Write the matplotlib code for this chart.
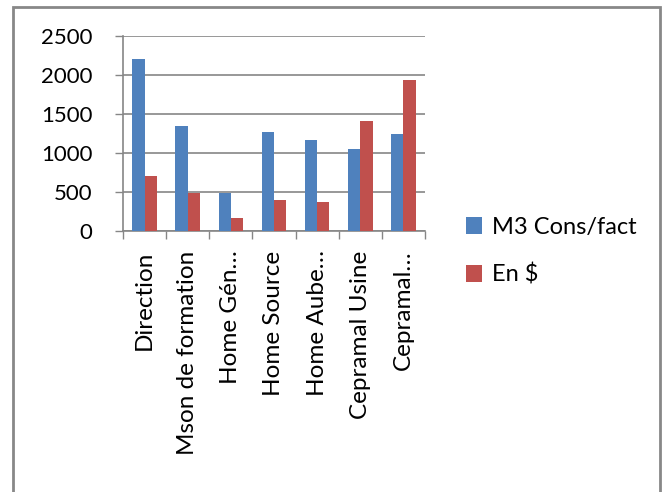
import matplotlib
matplotlib.use("Agg")
import matplotlib.pyplot as plt
import numpy as np
from matplotlib.patches import Rectangle

categories = ["Direction", "Mson de formation", "Home Gén…", "Home Source",
              "Home Aube…", "Cepramal Usine", "Cepramal…"]
m3_cons = [2200, 1350, 490, 1270, 1170, 1050, 1240]
en_dollars = [710, 490, 170, 400, 375, 1410, 1940]
series_names = ["M3 Cons/fact", "En $"]
yticks = [0, 500, 1000, 1500, 2000, 2500]

plt.rcParams['font.family'] = ['Lato', 'DejaVu Sans']

fig = plt.figure(figsize=(6.66, 4.92), dpi=100)
W, H = 666, 492
ax = fig.add_axes([123 / W, 1 - 231 / H, (425 - 123) / W, (231 - 36) / H])

x = np.arange(len(categories))
w = 0.285
blue = "#4F81BD"
red = "#C0504D"
ax.bar(x - w / 2, m3_cons, width=w, color=blue, label=series_names[0], zorder=3)
ax.bar(x + w / 2, en_dollars, width=w, color=red, label=series_names[1], zorder=3)

ax.set_xlim(-0.5, len(categories) - 0.5)
ax.set_ylim(0, 2500)
ax.set_yticks(yticks)
ax.set_yticklabels([str(v) for v in yticks], fontsize=16)
ax.yaxis.grid(True, color="#868686", linewidth=1.2, zorder=0)
ax.set_axisbelow(True)

ax.set_xticks(x)
ax.set_xticklabels(categories, rotation=90, fontsize=17.5, va="top", ha="center")
ax.set_xticks(np.arange(-0.5, len(categories), 1.0), minor=True)
ax.tick_params(axis="x", which="major", length=0, pad=14)
ax.tick_params(axis="x", which="minor", length=6, color="#868686", width=1)
ax.tick_params(axis="y", length=6, color="#868686", width=1, pad=16)

for s in ["top", "right"]:
    ax.spines[s].set_visible(False)
for s in ["left", "bottom"]:
    ax.spines[s].set_color("#868686")
    ax.spines[s].set_linewidth(1.2)

leg = fig.legend(loc="upper left", bbox_to_anchor=(454 / W, 1 - 205 / H),
                 frameon=False, fontsize=17, handlelength=0.7, handleheight=0.7,
                 labelspacing=1.1, handletextpad=0.4, borderpad=0)

border = Rectangle((13 / W, -0.05), (660 - 13) / W, 1.05 - 7 / H,
                   transform=fig.transFigure, fill=False, edgecolor="#888888",
                   linewidth=2, clip_on=False)
fig.patches.append(border)

fig.savefig("out.png", dpi=100)
